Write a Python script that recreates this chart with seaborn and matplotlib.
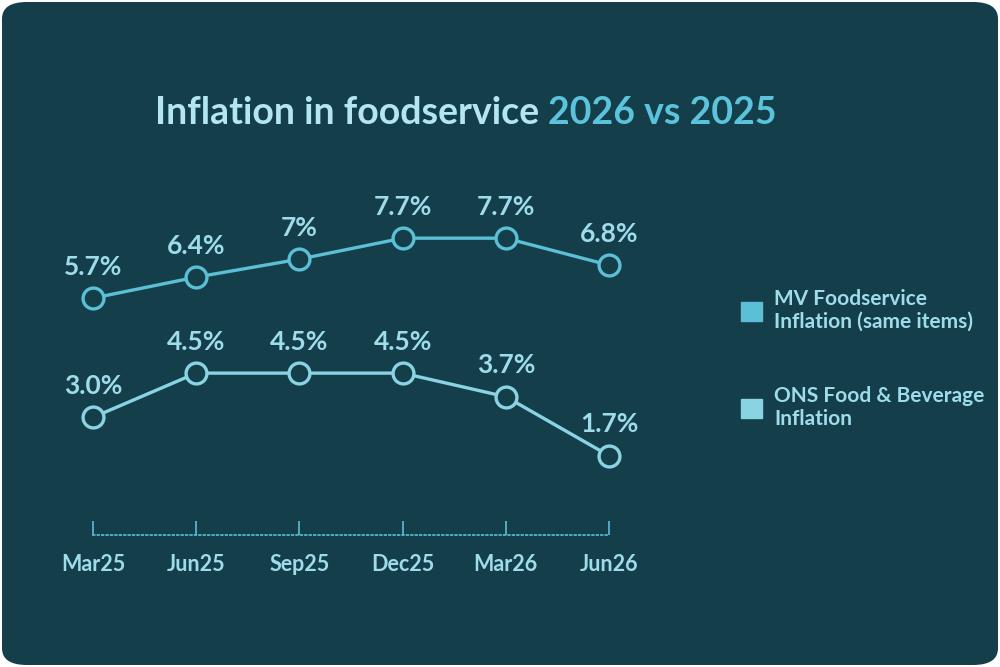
import matplotlib
matplotlib.use("Agg")
import matplotlib.pyplot as plt
import seaborn as sns
import pandas as pd
from matplotlib.patches import FancyBboxPatch, Patch

periods = ["Mar25", "Jun25", "Sep25", "Dec25", "Mar26", "Jun26"]
mv_values = [5.7, 6.4, 7.0, 7.7, 7.7, 6.8]
mv_labels = ["5.7%", "6.4%", "7%", "7.7%", "7.7%", "6.8%"]
ons_values = [3.0, 4.5, 4.5, 4.5, 3.7, 1.7]
ons_labels = ["3.0%", "4.5%", "4.5%", "4.5%", "3.7%", "1.7%"]
series_names = ["MV Foodservice\nInflation (same items)", "ONS Food & Beverage\nInflation"]

BG = "#143e4a"
C1 = "#5bbfd6"
C2 = "#8ad3e3"
TXT = "#9fdcea"

sns.set_style("white")
plt.rcParams["font.family"] = ["Lato", "DejaVu Sans"]

fig = plt.figure(figsize=(10, 6.67), dpi=100)
fig.patch.set_facecolor("white")
fig.patches.append(FancyBboxPatch((0.002, 0.003), 0.996, 0.994, boxstyle="round,pad=0,rounding_size=0.025",
                                  transform=fig.transFigure, facecolor=BG, edgecolor="none", zorder=-10))

ax = fig.add_axes([0.093, 0.198, 0.516, 0.502])
ax2 = ax.twinx()
for a in (ax, ax2):
    a.set_facecolor("none")
    for s in a.spines.values():
        s.set_visible(False)

df1 = pd.DataFrame({"x": range(len(periods)), "y": mv_values})
df2 = pd.DataFrame({"x": range(len(periods)), "y": ons_values})
sns.lineplot(data=df1, x="x", y="y", ax=ax, color=C1, lw=2.4, marker="o", markersize=15,
             markerfacecolor=BG, markeredgecolor=C1, markeredgewidth=2.4, clip_on=False)
sns.lineplot(data=df2, x="x", y="y", ax=ax2, color=C2, lw=2.4, marker="o", markersize=15,
             markerfacecolor=BG, markeredgecolor=C2, markeredgewidth=2.4, clip_on=False)

ax.set_ylim(-2.2, 8.97)
ax2.set_ylim(-0.99, 10.37)
ax.set_xlim(0, 5)
for a, vals, labs in ((ax, mv_values, mv_labels), (ax2, ons_values, ons_labels)):
    for i, (v, l) in enumerate(zip(vals, labs)):
        a.annotate(l, (i, v), xytext=(0, 14), textcoords="offset points", ha="center", va="bottom",
                   color=TXT, fontsize=19, fontweight="bold")

ax.set_yticks([]); ax2.set_yticks([])
ax.set_xlabel(""); ax.set_ylabel(""); ax2.set_ylabel("")
ax.set_xticks(range(len(periods)))
ax.set_xticklabels(periods, color=TXT, fontsize=15.5, fontweight="bold")
ax.spines["bottom"].set_visible(True)
ax.spines["bottom"].set_color(C1)
ax.spines["bottom"].set_linestyle(":")
ax.spines["bottom"].set_linewidth(1.2)
ax.tick_params(axis="x", bottom=True, direction="in", length=10, color=C1, width=1.2, pad=14)
for t in ax.xaxis.get_major_ticks():
    t.tick1line.set_linestyle((0, (1, 1)))

t1 = fig.text(0.155, 0.83, "Inflation in foodservice ", color="#b4e6f0", fontsize=27, fontweight="bold",
              ha="left", va="center")
fig.canvas.draw()
bb = t1.get_window_extent()
x2 = bb.x1 / fig.bbox.width
fig.text(x2, 0.83, "2026 vs 2025", color="#5cc3dc", fontsize=27, fontweight="bold", ha="left", va="center")

handles = [Patch(facecolor=C1, edgecolor=C1), Patch(facecolor=C2, edgecolor=C2)]
fig.legend(handles, series_names, loc="upper left", bbox_to_anchor=(0.722, 0.595), frameon=False,
           labelcolor=TXT, prop={"size": 15, "weight": "bold"}, labelspacing=2.6,
           handlelength=1.0, handleheight=1.0, handletextpad=0.6)

fig.savefig("out.png", dpi=100, facecolor=fig.get_facecolor())
